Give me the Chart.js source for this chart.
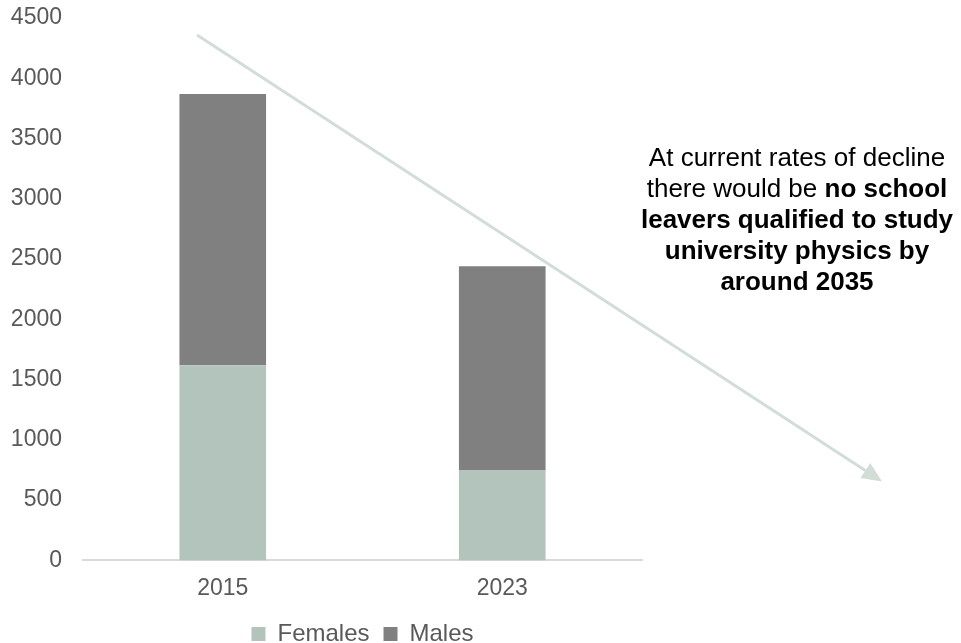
<!DOCTYPE html>
<html lang="en">
<head>
  <meta charset="UTF-8">
  <title>School leavers qualified to study physics</title>
  <script src="https://cdn.jsdelivr.net/npm/chart.js"></script>
  <style>
    html, body {
      margin: 0;
      padding: 0;
      background: #fff;
    }
    #wrap {
      position: relative;
      width: 961px;
      height: 643px;
    }
    #note {
      position: absolute;
      left: 617px;
      top: 142px;
      width: 360px;
      text-align: center;
      font-family: "Liberation Sans", Arial, sans-serif;
      font-size: 26px;
      line-height: 31px;
      color: #000;
    }
  </style>
</head>
<body>
  <div id="wrap">
    <canvas id="chart" width="961" height="643"></canvas>
    <div id="note">
      At current rates of decline<br>
      there would be <b>no school</b><br>
      <b>leavers qualified to study</b><br>
      <b>university physics by</b><br>
      <b>around 2035</b>
    </div>
  </div>

  <script>
    const years = ['2015', '2023'];
    const females = [1620, 745];
    const males = [2250, 1695];
    const yTicks = [0, 500, 1000, 1500, 2000, 2500, 3000, 3500, 4000, 4500];

    // trend arrow, given in axis units (category index, value)
    const arrowFrom = { x: -0.092, y: 4359 };
    const arrowTo = { x: 2.359, y: 655 };

    const arrowPlugin = {
      id: 'trendArrow',
      afterDraw(chart) {
        const xs = chart.scales.x, ys = chart.scales.y;
        const x1 = xs.getPixelForValue(arrowFrom.x), y1 = ys.getPixelForValue(arrowFrom.y);
        const x2 = xs.getPixelForValue(arrowTo.x), y2 = ys.getPixelForValue(arrowTo.y);
        const ang = Math.atan2(y2 - y1, x2 - x1);
        const len = 20, half = 9;
        const bx = x2 - len * Math.cos(ang), by = y2 - len * Math.sin(ang);
        const ctx = chart.ctx;
        ctx.save();
        ctx.strokeStyle = '#d3ddd8';
        ctx.fillStyle = '#d3ddd8';
        ctx.lineWidth = 3;
        ctx.beginPath();
        ctx.moveTo(x1, y1);
        ctx.lineTo(bx, by);
        ctx.stroke();
        ctx.beginPath();
        ctx.moveTo(x2, y2);
        ctx.lineTo(bx + half * Math.sin(ang), by - half * Math.cos(ang));
        ctx.lineTo(bx - half * Math.sin(ang), by + half * Math.cos(ang));
        ctx.closePath();
        ctx.fill();
        ctx.restore();
      }
    };

    const font = '"Liberation Sans", Arial, sans-serif';

    new Chart(document.getElementById('chart'), {
      type: 'bar',
      data: {
        labels: years,
        datasets: [
          { label: 'Females', data: females, backgroundColor: '#b3c4bd' },
          { label: 'Males', data: males, backgroundColor: '#808080' }
        ]
      },
      options: {
        responsive: false,
        animation: false,
        categoryPercentage: 1,
        barPercentage: 0.31,
        layout: {
          padding: { left: 0, right: 319, top: 0, bottom: -13 }
        },
        scales: {
          x: {
            stacked: true,
            grid: { display: false },
            border: { color: '#d9d9d9', width: 2 },
            ticks: {
              color: '#595959',
              padding: 6,
              font: { family: font, size: 23 }
            }
          },
          y: {
            stacked: true,
            min: 0,
            max: 4500,
            afterFit(scale) {
              scale.width = 83;
              scale.paddingTop = 18;
            },
            afterBuildTicks(scale) { scale.ticks = yTicks.map(v => ({ value: v })); },
            grid: { display: false },
            border: { display: false },
            ticks: {
              color: '#595959',
              padding: 13,
              callback: v => String(v),
              font: { family: font, size: 23 }
            }
          }
        },
        plugins: {
          legend: {
            position: 'bottom',
            fullSize: false,
            labels: {
              color: '#595959',
              boxWidth: 14,
              boxHeight: 14,
              padding: 14,
              font: { family: font, size: 24 }
            }
          },
          tooltip: { enabled: false }
        }
      },
      plugins: [arrowPlugin]
    });
  </script>
</body>
</html>
